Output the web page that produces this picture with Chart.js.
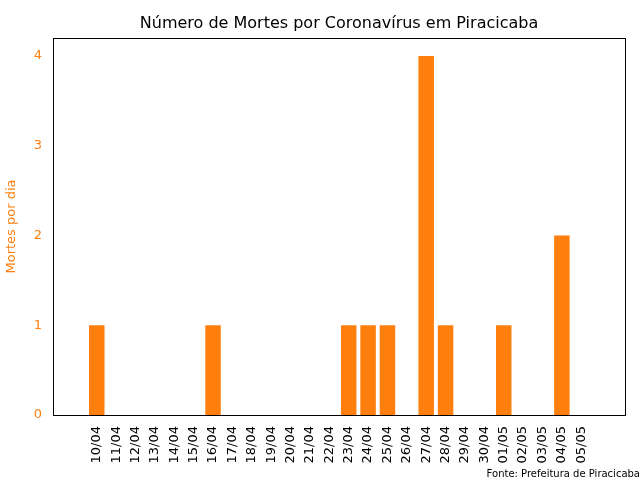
<!DOCTYPE html>
<html><head><meta charset="utf-8">
<script src="https://cdn.jsdelivr.net/npm/chart.js@4"></script>
<style>body{margin:0;background:#fff}#wrap{width:640px;height:480px}</style>
</head><body><div id="wrap"><canvas id="c" width="640" height="480"></canvas></div>
<script>
const dias = ['10/04','11/04','12/04','13/04','14/04','15/04','16/04','17/04','18/04','19/04','20/04','21/04','22/04','23/04','24/04','25/04','26/04','27/04','28/04','29/04','30/04','01/05','02/05','03/05','04/05','05/05'];
const mortes = [1,0,0,0,0,0,1,0,0,0,0,0,0,1,1,1,0,4,1,0,0,1,0,0,2,0];
const yTicks = [0,1,2,3,4];
const laranja = '#ff7f0e';
const font = "'DejaVu Sans', sans-serif";

const extras = {
  id: 'extras',
  afterDraw(chart) {
    const {ctx, chartArea: a} = chart;
    ctx.save();
    ctx.strokeStyle = '#000'; ctx.lineWidth = 1;
    ctx.strokeRect(a.left + 0.5, a.top + 0.5, a.right - a.left, a.bottom - a.top);
    ctx.fillStyle = '#000';
    ctx.font = '16px ' + font;
    ctx.textAlign = 'center'; ctx.textBaseline = 'middle';
    ctx.fillText('Número de Mortes por Coronavírus em Piracicaba', (a.left + a.right) / 2, 24);
    ctx.font = '10px ' + font;
    ctx.textAlign = 'right';
    ctx.fillText('Fonte: Prefeitura de Piracicaba', 640, 474);
    ctx.restore();
  }
};

new Chart(document.getElementById('c'), {
  type: 'bar',
  data: {
    datasets: [{
      data: mortes.map((v, i) => ({x: i, y: v})),
      backgroundColor: laranja,
      barPercentage: 0.8,
      categoryPercentage: 1
    }]
  },
  options: {
    responsive: false,
    animation: false,
    layout: {padding: {top: 38, right: 15, left: 0, bottom: 0}},
    plugins: {legend: {display: false}, tooltip: {enabled: false}},
    scales: {
      x: {
        type: 'linear', min: -1.69, max: 26.69,
        grid: {display: false, drawTicks: true},
        border: {display: false},
        afterBuildTicks(s) { s.ticks = dias.map((d, i) => ({value: i})); },
        afterFit(s) { s.height = 65; },
        ticks: {
          autoSkip: false, maxRotation: 90, minRotation: 90, color: '#000',
          font: {family: font, size: 13},
          callback: (v) => dias[v]
        }
      },
      y: {
        min: 0, max: 4.2,
        grid: {display: false},
        border: {display: false},
        afterBuildTicks(s) { s.ticks = yTicks.map(v => ({value: v})); },
        afterFit(s) { s.width = 53; },
        ticks: {color: laranja, font: {family: font, size: 13}},
        title: {display: true, text: 'Mortes por dia', color: laranja, font: {family: font, size: 13}}
      }
    }
  },
  plugins: [extras]
});
</script></body></html>
